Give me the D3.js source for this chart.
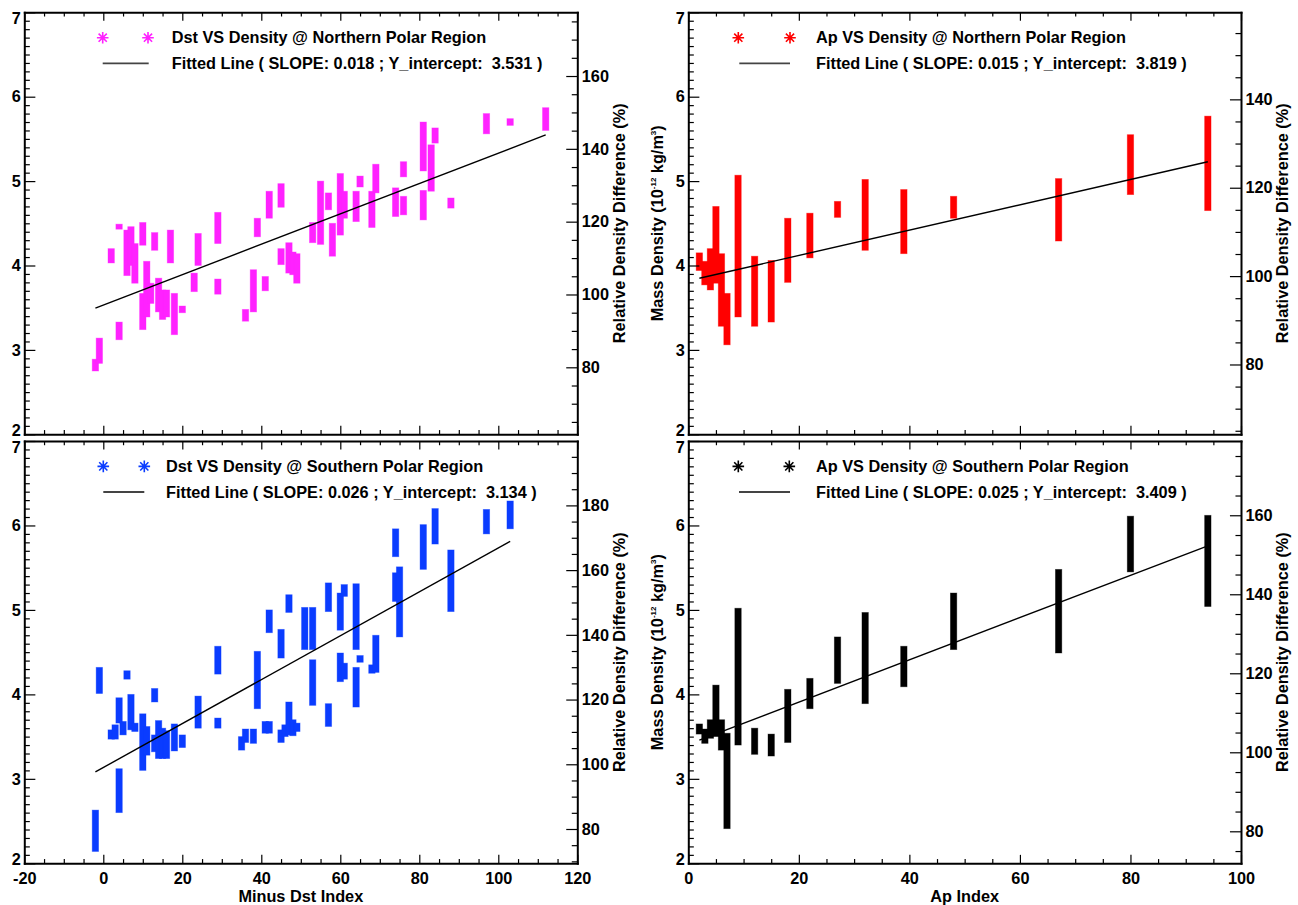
<!DOCTYPE html>
<html>
<head>
<meta charset="utf-8">
<script src="https://cdn.jsdelivr.net/npm/d3@7"></script>
<style>
  body { margin: 0; background: #fff; }
  text { font-family: "Liberation Sans", Arial, Helvetica, sans-serif; font-weight: bold; }
</style>
</head>
<body>
<svg id="chart" width="1298" height="905"></svg>
<script>
// Observed density range (10^-12 kg/m^3) at each index value: [index, min, max]
const dstNorth = [
  [-2, 2.75, 2.89], [-1, 2.84, 3.14], [2, 4.03, 4.20], [4, 3.12, 3.33], [4, 4.43, 4.49],
  [6, 3.88, 4.42], [7, 4.00, 4.46], [8, 3.79, 4.26], [10, 4.24, 4.51], [10, 3.24, 3.67],
  [11, 3.39, 4.05], [12, 3.55, 3.79], [13, 4.18, 4.39], [14, 3.45, 3.85], [15, 3.36, 3.71],
  [16, 3.39, 3.71], [17, 4.03, 4.42], [18, 3.18, 3.67], [20, 3.44, 3.52], [23, 3.69, 3.91],
  [24, 4.00, 4.38], [29, 4.26, 4.63], [29, 3.66, 3.84], [36, 3.34, 3.48], [38, 3.45, 3.95],
  [39, 4.34, 4.56], [41, 3.70, 3.87], [42, 4.56, 4.88], [45, 4.69, 4.97], [45, 4.01, 4.20],
  [47, 3.91, 4.27], [48, 3.89, 4.16], [49, 3.79, 4.14], [53, 4.27, 4.51], [55, 4.25, 5.00],
  [57, 4.66, 4.86], [58, 4.11, 4.50], [60, 4.36, 5.09], [61, 4.56, 4.88], [64, 4.52, 4.88],
  [65, 4.93, 5.06], [68, 4.45, 4.88], [69, 4.86, 5.20], [74, 4.58, 4.92], [76, 5.05, 5.23],
  [76, 4.60, 4.82], [81, 5.12, 5.70], [81, 4.54, 4.89], [83, 4.88, 5.43], [84, 5.45, 5.63],
  [88, 4.68, 4.80], [97, 5.56, 5.80], [103, 5.66, 5.74], [112, 5.60, 5.87]
];
const apNorth = [
  [2, 3.94, 4.15], [3, 3.77, 4.05], [4, 3.71, 4.20], [5, 3.79, 4.70], [6, 3.28, 4.14],
  [7, 3.06, 3.67], [9, 3.39, 5.07], [12, 3.28, 4.11], [15, 3.33, 4.06], [18, 3.80, 4.56],
  [22, 4.09, 4.62], [27, 4.57, 4.76], [32, 4.18, 5.02], [39, 4.14, 4.90], [48, 4.56, 4.82],
  [67, 4.29, 5.03], [80, 4.84, 5.55], [94, 4.65, 5.77]
];
const dstSouth = [
  [-2, 2.14, 2.63], [-1, 4.01, 4.32], [2, 3.47, 3.58], [3, 3.47, 3.64], [4, 3.66, 3.96],
  [4, 2.60, 3.12], [5, 3.52, 3.68], [6, 4.18, 4.28], [7, 3.58, 4.00], [8, 3.56, 3.66],
  [10, 3.10, 3.77], [11, 3.28, 3.62], [13, 3.91, 4.07], [13, 3.32, 3.52], [14, 3.24, 3.69],
  [15, 3.24, 3.60], [16, 3.24, 3.57], [18, 3.33, 3.65], [20, 3.37, 3.52], [24, 3.60, 3.98],
  [29, 4.24, 4.57], [29, 3.60, 3.72], [35, 3.34, 3.50], [36, 3.43, 3.59], [38, 3.42, 3.59],
  [39, 3.83, 4.51], [41, 3.54, 3.68], [42, 3.54, 3.68], [42, 4.73, 5.00], [45, 4.43, 4.77],
  [45, 3.43, 3.58], [46, 3.50, 3.64], [47, 4.97, 5.18], [47, 3.52, 3.91], [48, 3.51, 3.70],
  [49, 3.56, 3.66], [51, 4.53, 5.03], [53, 4.53, 5.03], [53, 3.87, 4.41], [57, 4.98, 5.32],
  [57, 3.62, 3.89], [60, 4.76, 5.20], [60, 4.15, 4.49], [61, 5.16, 5.30], [61, 4.18, 4.37],
  [64, 4.53, 5.31], [64, 3.85, 4.32], [65, 4.38, 4.46], [68, 4.25, 4.35], [69, 4.26, 4.70],
  [74, 5.63, 5.96], [74, 5.10, 5.44], [75, 4.68, 5.51], [81, 5.48, 6.01], [84, 5.78, 6.20],
  [88, 4.98, 5.71], [97, 5.90, 6.19], [103, 5.96, 6.29]
];
const apSouth = [
  [2, 3.53, 3.65], [3, 3.42, 3.59], [4, 3.48, 3.70], [5, 3.50, 4.11], [6, 3.34, 3.70],
  [7, 2.41, 3.54], [9, 3.40, 5.02], [12, 3.29, 3.60], [15, 3.27, 3.53], [18, 3.43, 4.06],
  [22, 3.83, 4.19], [27, 4.13, 4.68], [32, 3.89, 4.97], [39, 4.09, 4.57], [48, 4.53, 5.20],
  [67, 4.49, 5.48], [80, 5.45, 6.11], [94, 5.04, 6.12]
];

// Linear fit results
const fitSlope = [0.018, 0.015, 0.026, 0.025];
const fitIntercept = [3.531, 3.819, 3.134, 3.409];

// Legend / axis texts
const legendTitles = [
  "Dst VS Density @ Northern Polar Region",
  "Ap VS Density @ Northern Polar Region",
  "Dst VS Density @ Southern Polar Region",
  "Ap VS Density @ Southern Polar Region"
];
const xTitles = [null, null, "Minus Dst Index", "Ap Index"];

// Tick values
const densityDomain = [2, 7];
const densityTicks = [2, 3, 4, 5, 6, 7];
const dstDomain = [-20, 120];
const dstTicks = [-20, 0, 20, 40, 60, 80, 100, 120];
const apDomain = [0, 100];
const apTicks = [0, 20, 40, 60, 80, 100];
const relDomains = [[61.6, 177.5], [64.2, 159.7], [69.4, 199.9], [71.9, 178.8]];
const relTicks = [80, 100, 120, 140, 160, 180];

const svg = d3.select("#chart");

const L = { left: 24.3, right: 577.3 }, R = { left: 688.3, right: 1241 };
const T = { top: 12.3, bottom: 434.3 }, B = { top: 441, bottom: 863.3 };

const panels = [
  { data: dstNorth, color: "#ff22ff", xd: dstDomain, xt: dstTicks, ...L, ...T,
    sym: [102.7, 148], line: [102.7, 148.7], textX: 171.7, leftTitle: false },
  { data: apNorth, color: "#ff0000", xd: apDomain, xt: apTicks, ...R, ...T,
    sym: [738.3, 790], line: [739.3, 790], textX: 816, leftTitle: true },
  { data: dstSouth, color: "#0a3cff", xd: dstDomain, xt: dstTicks, ...L, ...B,
    sym: [103.3, 144.3], line: [103.3, 144.3], textX: 166, leftTitle: false },
  { data: apSouth, color: "#000000", xd: apDomain, xt: apTicks, ...R, ...B,
    sym: [738.3, 789.3], line: [739, 790], textX: 816, leftTitle: true }
];

const FONT = 16.3;

function minorValues(domain, step, majors) {
  const out = [];
  const n0 = Math.ceil(domain[0] / step - 1e-9), n1 = Math.floor(domain[1] / step + 1e-9);
  for (let i = n0; i <= n1; i++) {
    const v = +(i * step).toFixed(6);
    if (!majors.some(m => Math.abs(m - v) < 1e-9)) out.push(v);
  }
  return out;
}

function styleAxis(g) {
  g.attr("font-family", null).attr("font-size", null);
  g.selectAll(".tick line").attr("stroke", "#000").attr("stroke-width", 1.2);
  g.selectAll(".tick text").attr("fill", "#000").style("font-size", FONT + "px");
  g.select(".domain").attr("stroke", "#000").attr("stroke-width", 2).attr("stroke-linecap", "square");
}

function axisPair(axisFn, scale, tx, ty, majors, minors, len, labels, pad) {
  const gm = svg.append("g").attr("transform", `translate(${tx},${ty})`)
    .call(axisFn(scale).tickValues(minors).tickSize(-len / 2).tickSizeOuter(0).tickFormat(""));
  gm.select(".domain").remove();
  gm.selectAll(".tick line").attr("stroke", "#000").attr("stroke-width", 1.2);
  const g = svg.append("g").attr("transform", `translate(${tx},${ty})`)
    .call(axisFn(scale).tickValues(majors).tickSize(-len).tickSizeOuter(0).tickPadding(pad)
      .tickFormat(labels ? (d => String(d)) : ""));
  styleAxis(g);
  return g;
}

function asterisk(sel, cx, cy, r, color) {
  const a = Math.SQRT1_2 * r;
  sel.append("path")
    .attr("d", `M${cx - r},${cy}H${cx + r}M${cx},${cy - r}V${cy + r}M${cx - a},${cy - a}L${cx + a},${cy + a}M${cx - a},${cy + a}L${cx + a},${cy - a}`)
    .attr("stroke", color).attr("stroke-width", 1.6).attr("fill", "none");
}

panels.forEach((p, i) => {
  const x = d3.scaleLinear().domain(p.xd).range([p.left, p.right]);
  const y = d3.scaleLinear().domain(densityDomain).range([p.bottom, p.top]);
  const yr = d3.scaleLinear().domain(relDomains[i]).range([p.bottom, p.top]);
  const w = p.right - p.left, h = p.bottom - p.top;
  const lenY = 0.02 * w, lenX = 0.02 * h;

  // density ranges drawn as stacked symbol columns
  const g = svg.append("g");
  g.selectAll("rect").data(p.data).join("rect")
    .attr("x", d => x(d[0]) - 3.2)
    .attr("width", 6.4)
    .attr("y", d => y(d[2]))
    .attr("height", d => y(d[1]) - y(d[2]))
    .attr("fill", p.color)
    .attr("stroke", p.color).attr("stroke-opacity", 0.45).attr("stroke-width", 0.8);

  // fitted line over the span of index values
  const ext = d3.extent(p.data, d => d[0]);
  const f = v => fitIntercept[i] + fitSlope[i] * v;
  g.append("line")
    .attr("x1", x(ext[0])).attr("y1", y(f(ext[0])))
    .attr("x2", x(ext[1])).attr("y2", y(f(ext[1])))
    .attr("stroke", "#000").attr("stroke-width", 1.4);

  // axes: bottom, top, left, right
  const xMinor = minorValues(p.xd, 5, p.xt);
  axisPair(d3.axisBottom, x, 0, p.bottom, p.xt, xMinor, lenX, xTitles[i] !== null, 9.5);
  axisPair(d3.axisTop, x, 0, p.top, p.xt, xMinor, lenX, false, 0);
  const yMinor = minorValues(densityDomain, 0.1, densityTicks);
  const gl = axisPair(d3.axisLeft, y, p.left, 0, densityTicks, yMinor, lenY, true, 3.5);
  gl.selectAll(".tick text").attr("dy", d => d === 7 ? "0.7em" : d === 2 ? "0.05em" : "0.32em");
  const relMajor = relTicks.filter(v => v >= relDomains[i][0] && v <= relDomains[i][1]);
  const rMinor = minorValues(relDomains[i], 5, relMajor);
  axisPair(d3.axisRight, yr, p.right, 0, relMajor, rMinor, lenY, true, 4.5);

  // legend
  const lg = svg.append("g");
  asterisk(lg, p.sym[0], p.top + 25.4, 5.8, p.color);
  asterisk(lg, p.sym[1], p.top + 25.4, 5.8, p.color);
  lg.append("line").attr("x1", p.line[0]).attr("x2", p.line[1])
    .attr("y1", p.top + 51).attr("y2", p.top + 51)
    .attr("stroke", "#444").attr("stroke-width", 1.8);
  lg.append("text").attr("x", p.textX).attr("y", p.top + 31).style("font-size", FONT + "px")
    .text(legendTitles[i]);
  lg.append("text").attr("x", p.textX).attr("y", p.top + 57).style("font-size", FONT + "px")
    .attr("xml:space", "preserve")
    .text(`Fitted Line ( SLOPE: ${fitSlope[i].toFixed(3)} ; Y_intercept:  ${fitIntercept[i].toFixed(3)} )`);

  // axis titles
  const cy = (p.top + p.bottom) / 2;
  svg.append("text")
    .attr("transform", `translate(${p.right + 47.3},${cy}) rotate(-90)`)
    .attr("text-anchor", "middle").style("font-size", FONT + "px")
    .text("Relative Density Difference (%)");
  if (p.leftTitle) {
    const t = svg.append("text")
      .attr("transform", `translate(${p.left - 25.6},${cy}) rotate(-90)`)
      .attr("text-anchor", "middle").style("font-size", FONT + "px");
    t.append("tspan").text("Mass Density (10");
    t.append("tspan").attr("dy", -7).style("font-size", "8px").text("-12");
    t.append("tspan").attr("dy", 7).text(" kg/m");
    t.append("tspan").attr("dy", -7).style("font-size", "8px").text("3");
    t.append("tspan").attr("dy", 7).text(")");
  }
  if (xTitles[i]) {
    svg.append("text").attr("x", (p.left + p.right) / 2).attr("y", 901.5)
      .attr("text-anchor", "middle").style("font-size", FONT + "px").text(xTitles[i]);
  }
});
</script>
</body>
</html>
